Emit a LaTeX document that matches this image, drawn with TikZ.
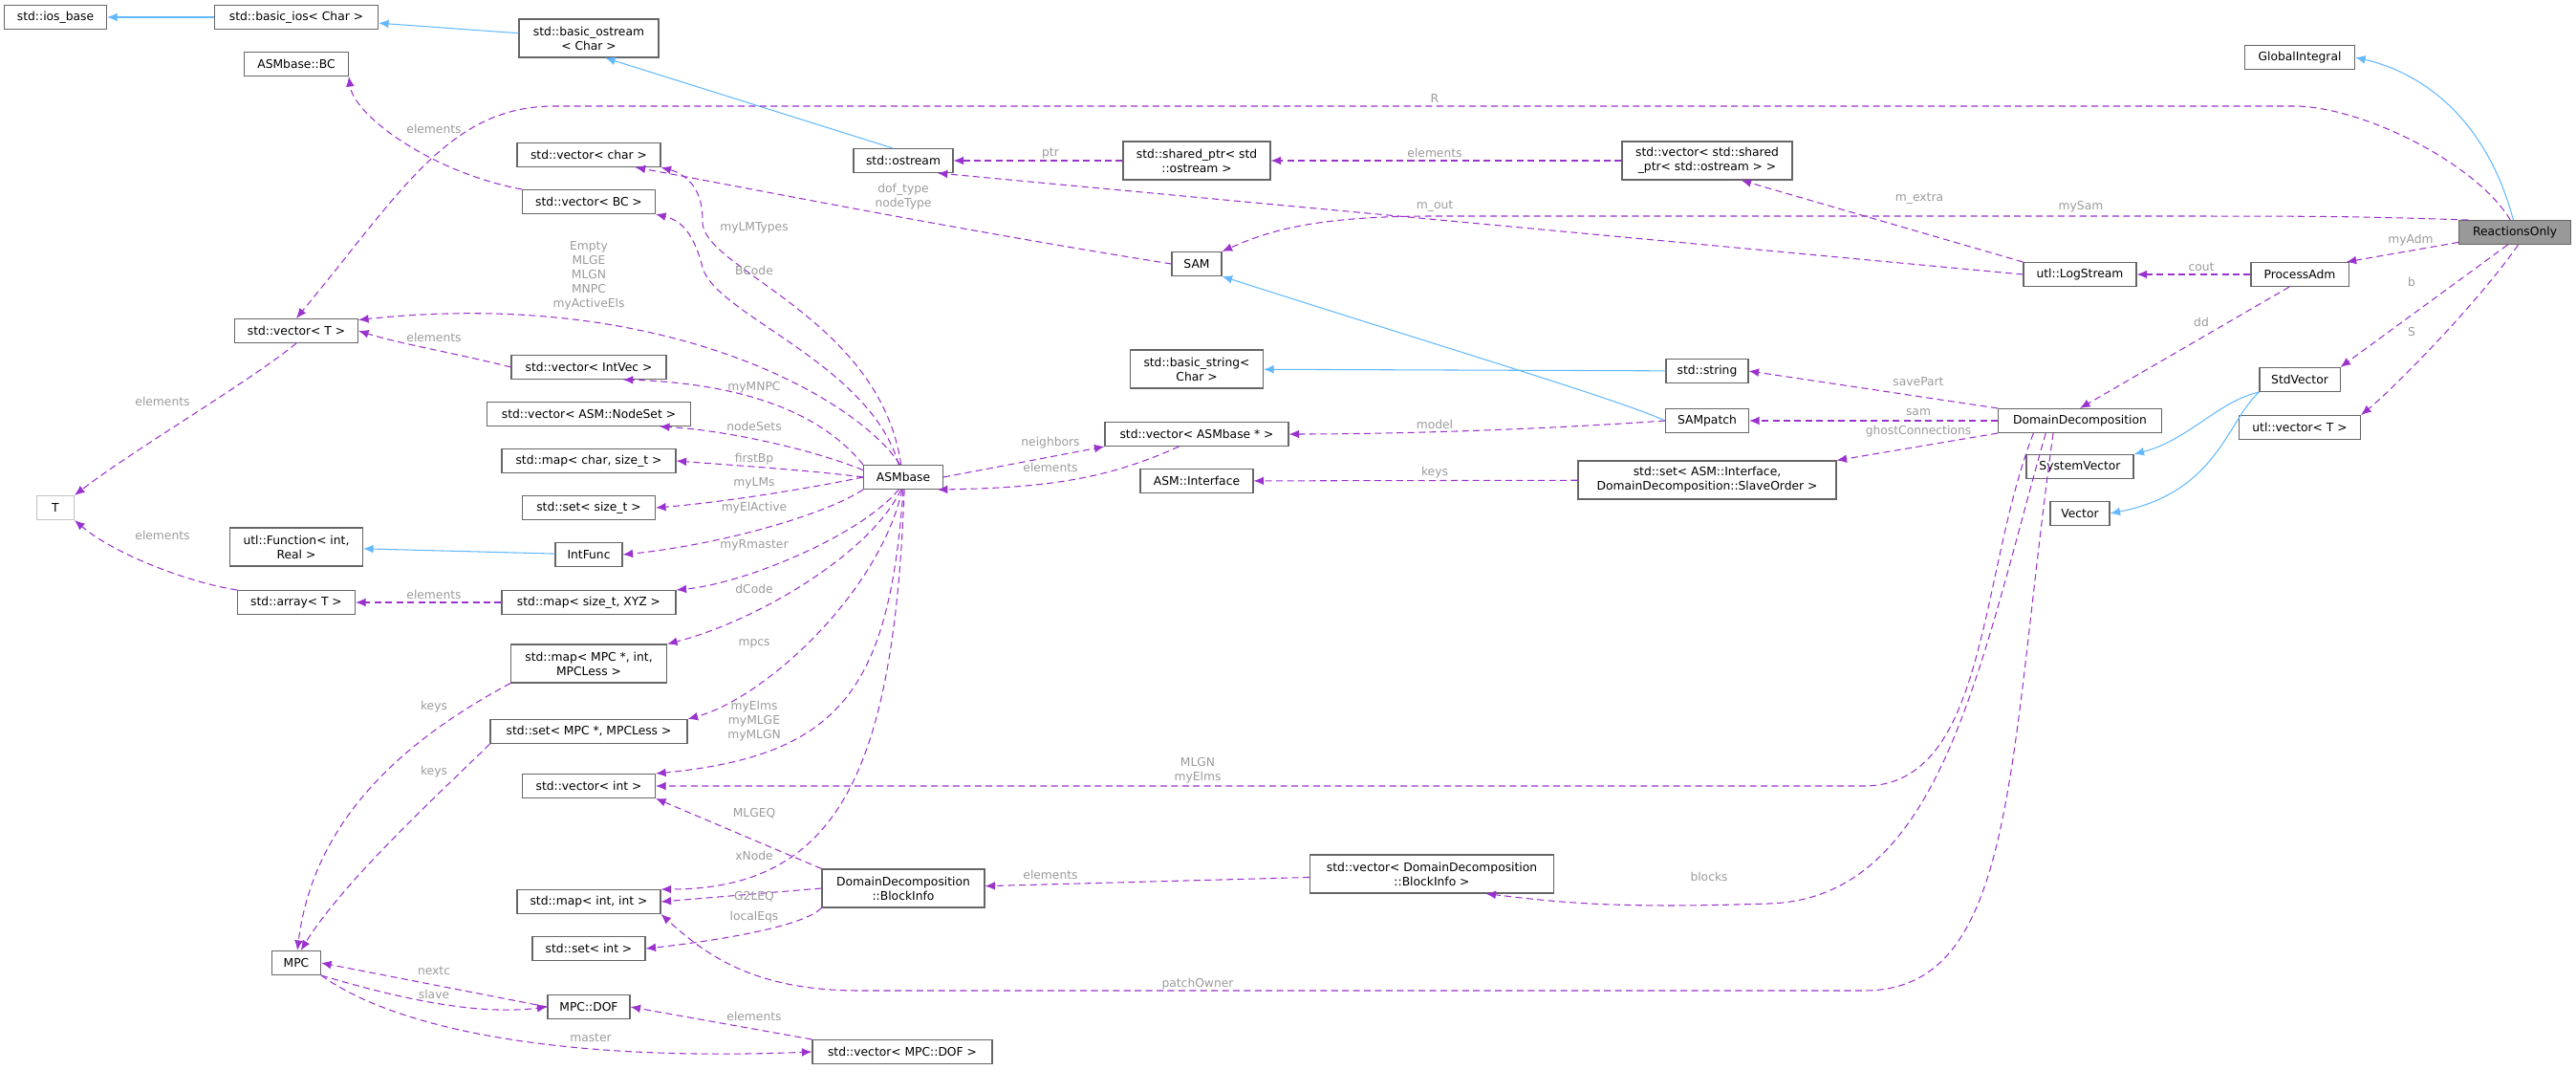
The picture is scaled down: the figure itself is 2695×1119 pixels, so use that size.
\documentclass[tikz,border=0pt]{standalone}
\usepackage{fontspec}
\setmainfont{DejaVu Sans}
\usetikzlibrary{arrows.meta}
\definecolor{pur}{HTML}{9A32CD}
\definecolor{blu}{HTML}{63B8FF}
\definecolor{brd}{HTML}{666666}
\definecolor{lbg}{HTML}{9A9A9A}
\begin{document}
\begin{tikzpicture}[x=0.02cm,y=-0.02cm,
 bx/.style={draw=brd,line width=0.6pt,fill=white,font=\fontsize{7}{8.5}\selectfont,align=center,inner sep=1pt,minimum height=0.5cm},
 two/.style={minimum height=0.8cm},
 w/.style={minimum width=#1*0.02cm},
 lb/.style={font=\fontsize{7}{8.5}\selectfont,text=lbg,align=center,inner sep=0pt},
 pe/.style={draw=pur,dashed,dash pattern=on 4pt off 2.5pt,line width=0.6pt,-{Latex[length=6pt,width=5pt]}},
 be/.style={draw=blu,line width=0.6pt,-{Latex[length=6pt,width=5pt]}}]
\useasboundingbox (0,0) rectangle (2695,1119);
% nodes
\node[bx,w=107] (iosb) at (58,18) {std::ios\_base};
\node[bx,w=171] (bios) at (310,18) {std::basic\_ios< Char >};
\node[bx,two,w=146] (bos) at (616,40) {std::basic\_ostream\\< Char >};
\node[bx,w=109] (asmbc) at (310,67) {ASMbase::BC};
\node[bx,w=150] (vchar) at (616,162) {std::vector< char >};
\node[bx,w=139] (vbc) at (616,211) {std::vector< BC >};
\node[bx,w=129] (vt) at (310,346) {std::vector< T >};
\node[bx,w=162] (vintv) at (616,384) {std::vector< IntVec >};
\node[bx,w=213] (vns) at (616,433) {std::vector< ASM::NodeSet >};
\node[bx,w=182] (mcs) at (616,482) {std::map< char, size\_t >};
\node[bx,w=139] (sst) at (616,531) {std::set< size\_t >};
\node[bx,w=39,draw=lbg!60] (T) at (58,531) {T};
\node[bx,two,w=139] (ufun) at (310,572) {utl::Function< int,\\Real >};
\node[bx,w=70] (intf) at (616,580) {IntFunc};
\node[bx,w=123] (arr) at (310,630) {std::array< T >};
\node[bx,w=182] (mxyz) at (616,630) {std::map< size\_t, XYZ >};
\node[bx,two,w=163] (mmpc) at (616,694) {std::map< MPC *, int,\\MPCLess >};
\node[bx,w=206] (smpc) at (616,765) {std::set< MPC *, MPCLess >};
\node[bx,w=139] (vint) at (616,822) {std::vector< int >};
\node[bx,w=150] (mii) at (616,943) {std::map< int, int >};
\node[bx,w=118] (sint) at (616,992) {std::set< int >};
\node[bx,w=51] (mpc) at (310,1007) {MPC};
\node[bx,w=86] (dof) at (616,1053) {MPC::DOF};
\node[bx,two,w=170] (binfo) at (945,929) {DomainDecomposition\\::BlockInfo};
\node[bx,w=188] (vdof) at (944,1100) {std::vector< MPC::DOF >};
\node[bx,two,w=255] (vbinfo) at (1498,914) {std::vector< DomainDecomposition\\::BlockInfo >};
\node[bx,w=104] (ostr) at (945,168) {std::ostream};
\node[bx,two,w=154] (shp) at (1252,168) {std::shared\_ptr< std\\::ostream >};
\node[bx,two,w=178] (vshp) at (1786,168) {std::vector< std::shared\\\_ptr< std::ostream > >};
\node[bx,w=52] (sam) at (1252,276) {SAM};
\node[bx,two,w=139] (bstr) at (1252,386) {std::basic\_string<\\Char >};
\node[bx,w=86] (sstr) at (1786,388) {std::string};
\node[bx,w=87] (samp) at (1786,440) {SAMpatch};
\node[bx,w=192] (vasm) at (1252,454) {std::vector< ASMbase * >};
\node[bx,w=83] (asm) at (945,499) {ASMbase};
\node[bx,w=118] (asmi) at (1252,503) {ASM::Interface};
\node[bx,two,w=270] (sasm) at (1786,502) {std::set< ASM::Interface,\\DomainDecomposition::SlaveOrder >};
\node[bx,w=115] (gint) at (2406,60) {GlobalIntegral};
\node[bx,w=117,fill=black!40] (react) at (2631,243) {ReactionsOnly};
\node[bx,w=118] (logs) at (2176,287) {utl::LogStream};
\node[bx,w=102] (padm) at (2406,287) {ProcessAdm};
\node[bx,w=84] (stdv) at (2406,397) {StdVector};
\node[bx,w=127] (uvec) at (2406,447) {utl::vector< T >};
\node[bx,w=171] (dd) at (2176,440) {DomainDecomposition};
\node[bx,w=112] (sysv) at (2176,488) {SystemVector};
\node[bx,w=62] (vec) at (2176,537) {Vector};
% blue edges
\draw[be] (bios) -- (iosb);
\draw[be] (bos) -- (bios);
\draw[be] (ostr.130) -- (bos.-50);
\draw[be] (intf) -- (ufun);
\draw[be] (sstr) -- (bstr);
\draw[be] (samp.west) .. controls (1700,420) and (1500,360) .. (sam.south east);
\draw[be] (react.97) .. controls (2600,120) and (2530,75) .. (gint.east);
\draw[be] (stdv.south west) .. controls (2320,420) and (2290,460) .. (sysv.north east);
\draw[be] (stdv.south west) .. controls (2330,440) and (2320,515) .. (vec.east);
% purple edges
\draw[pe] (vbc.north west) .. controls (450,180) and (370,120) .. (asmbc.south east);
\draw[pe] (react.110) .. controls (2590,170) and (2470,111) .. (2400,111) -- (580,111) .. controls (470,111) and (420,200) .. (vt.north);
\draw[pe] (vt.south) .. controls (260,400) and (140,470) .. (T.north east);
\draw[pe] (arr.north west) .. controls (200,610) and (120,580) .. (T.south east);
\draw[pe] (vintv.west) .. controls (480,370) and (420,360) .. (vt.east);
\draw[pe] (asm.105) .. controls (900,420) and (700,300) .. (vt.10);
\draw[pe] (asm.100) .. controls (920,330) and (730,280) .. (735,230) .. controls (735,190) and (710,180) .. (vchar.south east);
\draw[pe] (sam.west) .. controls (1000,240) and (800,200) .. (vchar.-15);
\draw[pe] (asm.110) .. controls (910,380) and (750,330) .. (735,280) .. controls (725,240) and (710,230) .. (vbc.south east);
\draw[pe] (asm.north west) .. controls (850,420) and (750,400) .. (vintv.-20);
\draw[pe] (asm.170) .. controls (850,470) and (760,450) .. (vns.-10);
\draw[pe] (asm.west) .. controls (850,492) and (760,486) .. (mcs.east);
\draw[pe] (asm.west) .. controls (850,510) and (760,525) .. (sst.east);
\draw[pe] (asm.south west) .. controls (860,540) and (750,570) .. (intf.east);
\draw[pe] (asm.-110) .. controls (900,560) and (780,610) .. (mxyz.north east);
\draw[pe] (mxyz) -- (arr);
\draw[pe] (asm.-100) .. controls (910,580) and (790,650) .. (mmpc.north east);
\draw[pe] (asm.-95) .. controls (920,620) and (800,730) .. (smpc.north east);
\draw[pe] (asm.-90) .. controls (930,720) and (880,790) .. (vint.north east);
\draw[pe] (asm.-85) .. controls (935,800) and (880,930) .. (mii.north east);
\draw[pe] (mmpc.south west) .. controls (450,760) and (330,840) .. (mpc.85);
\draw[pe] (smpc.south west) .. controls (470,820) and (360,920) .. (mpc.70);
\draw[pe] (binfo.north west) -- (vint.south east);
\draw[pe] (binfo.west) -- (mii.east);
\draw[pe] (binfo.south west) .. controls (840,970) and (740,985) .. (sint.east);
\draw[pe] (dof.west) -- (mpc.east);
\draw[pe] (mpc.south east) .. controls (420,1045) and (500,1062) .. (dof.west);
\draw[pe] (mpc.south east) .. controls (420,1080) and (600,1110) .. (vdof.west);
\draw[pe] (vdof.north west) -- (dof.east);
\draw[pe] (vbinfo) -- (binfo);
\draw[pe] (dd.-160) .. controls (2070,700) and (2030,940) .. (1850,945) .. controls (1700,950) and (1640,945) .. (vbinfo.-20);
\draw[pe] (dd.-165) .. controls (2070,600) and (2080,822) .. (1950,822) -- (vint.east);
\draw[pe] (dd.-155) .. controls (2100,800) and (2110,1036) .. (1950,1036) -- (900,1036) .. controls (790,1036) and (740,1000) .. (mii.south east);
\draw[pe] (shp) -- (ostr);
\draw[pe] (vshp) -- (shp);
\draw[pe] (logs.west) -- (ostr.-20);
\draw[pe] (logs.north west) -- (vshp.-30);
\draw[pe] (padm) -- (logs);
\draw[pe] (padm.-130) -- (dd.north);
\draw[pe] (react.165) .. controls (2450,226) .. (2200,226) -- (1500,226) .. controls (1380,226) and (1330,240) .. (sam.north east);
\draw[pe] (react.-170) -- (padm.15);
\draw[pe] (react.-120) -- (stdv.north east);
\draw[pe] (react.-75) .. controls (2590,320) and (2500,410) .. (uvec.north east);
\draw[pe] (dd.north west) -- (sstr.east);
\draw[pe] (dd) -- (samp);
\draw[pe] (dd.south west) -- (sasm.north east);
\draw[pe] (sasm) -- (asmi);
\draw[pe] (samp.west) .. controls (1600,450) and (1450,454) .. (vasm.east);
\draw[pe] (asm.east) -- (vasm.south west);
\draw[pe] (vasm.-145) .. controls (1160,500) and (1100,510) .. (asm.-20);
% labels
\node[lb] (l1) at (454,135) {elements};
\node[lb] (l2) at (616,288) {Empty\\MLGE\\MLGN\\MNPC\\myActiveEls};
\node[lb] (l3) at (454,353) {elements};
\node[lb] (l4) at (170,420) {elements};
\node[lb] (l5) at (170,560) {elements};
\node[lb] (l6) at (789,238) {myLMTypes};
\node[lb] (l7) at (789,283) {BCode};
\node[lb] (l8) at (789,405) {myMNPC};
\node[lb] (l9) at (789,446) {nodeSets};
\node[lb] (l10) at (789,480) {firstBp};
\node[lb] (l11) at (789,505) {myLMs};
\node[lb] (l12) at (789,531) {myElActive};
\node[lb] (l13) at (789,570) {myRmaster};
\node[lb] (l14) at (789,616) {dCode};
\node[lb] (l15) at (789,673) {mpcs};
\node[lb] (l16) at (789,754) {myElms\\myMLGE\\myMLGN};
\node[lb] (l17) at (454,622) {elements};
\node[lb] (l18) at (454,739) {keys};
\node[lb] (l19) at (454,807) {keys};
\node[lb] (l20) at (789,851) {MLGEQ};
\node[lb] (l21) at (789,895) {xNode};
\node[lb] (l22) at (789,938) {G2LEQ};
\node[lb] (l23) at (789,959) {localEqs};
\node[lb] (l24) at (454,1015) {nextc};
\node[lb] (l25) at (454,1040) {slave};
\node[lb] (l26) at (618,1085) {master};
\node[lb] (l27) at (789,1063) {elements};
\node[lb] (l28) at (1253,806) {MLGN\\myElms};
\node[lb] (l29) at (1099,915) {elements};
\node[lb] (l30) at (1788,917) {blocks};
\node[lb] (l31) at (1253,1029) {patchOwner};
\node[lb] (l32) at (1501,103) {R};
\node[lb] (l33) at (1099,160) {ptr};
\node[lb] (l34) at (1501,160) {elements};
\node[lb] (l35) at (945,206) {dof\_type\\nodeType};
\node[lb] (l36) at (1501,216) {m\_out};
\node[lb] (l37) at (1501,444) {model};
\node[lb] (l38) at (1099,463) {neighbors};
\node[lb] (l39) at (1099,489) {elements};
\node[lb] (l40) at (1501,494) {keys};
\node[lb] (l41) at (2008,208) {m\_extra};
\node[lb] (l42) at (2177,216) {mySam};
\node[lb] (l43) at (2522,251) {myAdm};
\node[lb] (l44) at (2303,279) {cout};
\node[lb] (l45) at (2523,295) {b};
\node[lb] (l46) at (2303,337) {dd};
\node[lb] (l47) at (2523,347) {S};
\node[lb] (l48) at (2007,399) {savePart};
\node[lb] (l49) at (2007,431) {sam};
\node[lb] (l50) at (2007,451) {ghostConnections};
\end{tikzpicture}
\end{document}
